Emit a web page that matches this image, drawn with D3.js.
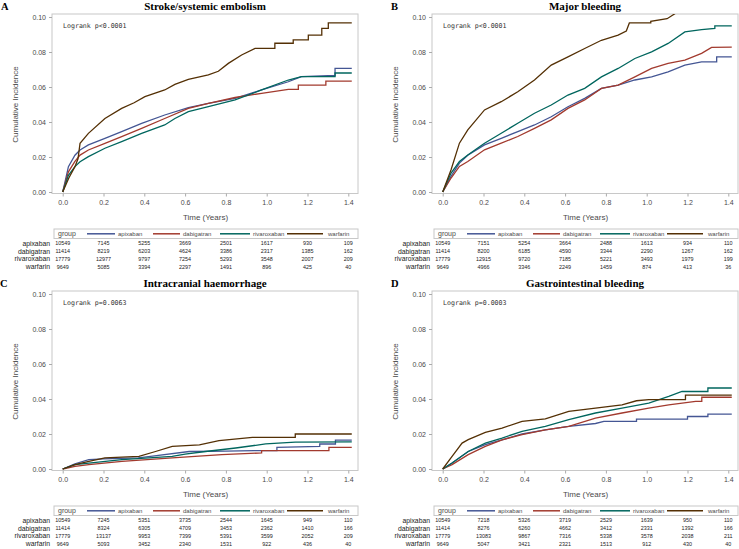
<!DOCTYPE html>
<html><head><meta charset="utf-8">
<script src="https://cdn.jsdelivr.net/npm/d3@7"></script>
<style>body{margin:0;background:#fff}svg{display:block}</style>
</head><body><svg id="c" width="739" height="549"></svg>
<script>
const groups = ["apixaban","dabigatran","rivaroxaban","warfarin"];
const colors = ["#445694","#A23A2E","#01665E","#543005"];
const xTicks = [0,0.2,0.4,0.6,0.8,1.0,1.2,1.4];
const yTicks = [0,0.02,0.04,0.06,0.08,0.10];
const panelLetters = ["A","B","C","D"];
const panelTitles = ["Stroke/systemic embolism","Major bleeding","Intracranial haemorrhage","Gastrointestinal bleeding"];
const logrankLabels = ["Logrank p<0.0001","Logrank p<0.0001","Logrank p=0.0063","Logrank p=0.0003"];

// Panel A: stroke / systemic embolism  [time (years), cumulative incidence]
const strokeApixaban = [[0,0],[0.01,0.005],[0.028,0.0145],[0.06,0.021],[0.085,0.024],[0.126,0.0269],[0.207,0.0307],[0.289,0.0345],[0.387,0.0392],[0.5,0.044],[0.616,0.0482],[0.714,0.0507],[0.845,0.0535],[0.975,0.0583],[1.106,0.063],[1.17,0.0659],[1.3,0.0665],[1.335,0.0665],[1.335,0.0707],[1.417,0.0707]];
const strokeDabigatran = [[0,0],[0.028,0.0115],[0.06,0.0175],[0.085,0.0211],[0.126,0.024],[0.207,0.0278],[0.289,0.0316],[0.387,0.0364],[0.5,0.042],[0.616,0.0478],[0.714,0.0507],[0.845,0.054],[0.975,0.0564],[1.106,0.0587],[1.155,0.0587],[1.155,0.0611],[1.29,0.0611],[1.29,0.0634],[1.417,0.0634]];
const strokeRivaroxaban = [[0,0],[0.028,0.0095],[0.06,0.0145],[0.085,0.0173],[0.126,0.0202],[0.207,0.025],[0.289,0.0288],[0.387,0.0335],[0.5,0.0383],[0.55,0.042],[0.616,0.0459],[0.714,0.0488],[0.845,0.0526],[0.975,0.0583],[1.106,0.064],[1.17,0.0659],[1.335,0.0659],[1.335,0.068],[1.417,0.068]];
const strokeWarfarin = [[0,0],[0.03,0.008],[0.06,0.0145],[0.075,0.019],[0.085,0.0278],[0.126,0.0335],[0.207,0.042],[0.289,0.0478],[0.35,0.051],[0.403,0.0545],[0.5,0.0583],[0.55,0.0615],[0.616,0.0644],[0.714,0.0669],[0.763,0.069],[0.812,0.0735],[0.877,0.0783],[0.943,0.0821],[1.04,0.0821],[1.04,0.085],[1.13,0.085],[1.13,0.0869],[1.204,0.0869],[1.204,0.0897],[1.27,0.0897],[1.27,0.0935],[1.302,0.0935],[1.302,0.0967],[1.417,0.0967]];

// Panel B: major bleeding
const majorApixaban = [[0,0],[0.041,0.009],[0.082,0.0165],[0.123,0.021],[0.205,0.0269],[0.287,0.0307],[0.368,0.0345],[0.45,0.0383],[0.532,0.043],[0.614,0.0487],[0.696,0.0535],[0.778,0.0592],[0.86,0.0611],[0.942,0.064],[1.024,0.0658],[1.105,0.0687],[1.187,0.0725],[1.269,0.0744],[1.343,0.0744],[1.343,0.0772],[1.417,0.0772]];
const majorDabigatran = [[0,0],[0.041,0.008],[0.082,0.0146],[0.123,0.0174],[0.205,0.0241],[0.287,0.0279],[0.368,0.0317],[0.45,0.0364],[0.532,0.0412],[0.614,0.0478],[0.696,0.0526],[0.778,0.0592],[0.86,0.0611],[0.942,0.0658],[1.024,0.0706],[1.105,0.0735],[1.187,0.0753],[1.269,0.0792],[1.318,0.0826],[1.417,0.0828]];
const majorRivaroxaban = [[0,0],[0.041,0.0108],[0.082,0.0174],[0.123,0.0212],[0.205,0.0279],[0.287,0.0336],[0.368,0.0393],[0.45,0.045],[0.532,0.0497],[0.614,0.0554],[0.696,0.0592],[0.778,0.0658],[0.86,0.0706],[0.942,0.0763],[1.024,0.0801],[1.105,0.0849],[1.187,0.0915],[1.269,0.0928],[1.334,0.0935],[1.334,0.0949],[1.417,0.0949]];
const majorWarfarin = [[0,0],[0.041,0.0127],[0.082,0.0279],[0.123,0.0355],[0.205,0.0469],[0.287,0.0516],[0.368,0.0573],[0.45,0.064],[0.532,0.0725],[0.614,0.0772],[0.696,0.082],[0.778,0.0867],[0.86,0.0896],[0.9,0.092],[0.915,0.0966],[1.02,0.0966],[1.02,0.0975],[1.1,0.099],[1.14,0.102],[1.2,0.106]];

// Panel C: intracranial haemorrhage
const ichApixaban = [[0,0],[0.06,0.003],[0.128,0.0053],[0.2,0.0058],[0.37,0.0063],[0.45,0.0075],[0.62,0.01],[0.8,0.0102],[0.94,0.0105],[1.05,0.0105],[1.05,0.0124],[1.26,0.0129],[1.26,0.0143],[1.337,0.0143],[1.337,0.0165],[1.417,0.0165]];
const ichDabigatran = [[0,0],[0.06,0.0015],[0.128,0.0025],[0.29,0.0043],[0.537,0.0063],[0.78,0.0082],[0.975,0.0092],[0.975,0.0105],[1.305,0.0105],[1.305,0.0124],[1.417,0.0124]];
const ichRivaroxaban = [[0,0],[0.06,0.0025],[0.128,0.0034],[0.29,0.0053],[0.537,0.0072],[0.6,0.0085],[0.7,0.01],[0.848,0.012],[0.995,0.0143],[1.14,0.0154],[1.417,0.0155]];
const ichWarfarin = [[0,0],[0.06,0.0025],[0.128,0.0043],[0.207,0.0063],[0.374,0.0072],[0.455,0.01],[0.537,0.0129],[0.67,0.0138],[0.766,0.0162],[0.93,0.0181],[1.14,0.0181],[1.14,0.02],[1.417,0.02]];

// Panel D: gastrointestinal bleeding
const giApixaban = [[0,0],[0.046,0.0034],[0.125,0.01],[0.209,0.0139],[0.291,0.0167],[0.389,0.02],[0.503,0.0224],[0.618,0.0243],[0.749,0.026],[0.79,0.0272],[0.95,0.0272],[0.95,0.0285],[1.2,0.0285],[1.2,0.03],[1.3,0.03],[1.3,0.0314],[1.417,0.0314]];
const giDabigatran = [[0,0],[0.046,0.0025],[0.125,0.0082],[0.209,0.0129],[0.291,0.0167],[0.389,0.0196],[0.503,0.0224],[0.618,0.0243],[0.749,0.0291],[0.879,0.032],[1.01,0.0348],[1.108,0.0367],[1.24,0.0386],[1.27,0.0386],[1.27,0.041],[1.417,0.041]];
const giRivaroxaban = [[0,0],[0.046,0.0034],[0.125,0.01],[0.209,0.0148],[0.291,0.0177],[0.389,0.0215],[0.503,0.0243],[0.618,0.0282],[0.749,0.032],[0.879,0.0348],[1.01,0.0377],[1.108,0.0415],[1.173,0.0443],[1.3,0.0443],[1.3,0.0463],[1.417,0.0463]];
const giWarfarin = [[0,0],[0.046,0.0072],[0.095,0.0148],[0.125,0.0168],[0.209,0.0209],[0.291,0.0234],[0.389,0.0272],[0.503,0.0286],[0.618,0.0329],[0.749,0.0348],[0.879,0.0367],[0.95,0.039],[1.01,0.0396],[1.19,0.0396],[1.19,0.0422],[1.417,0.0422]];

// Numbers at risk (rows: apixaban, dabigatran, rivaroxaban, warfarin; columns: xTicks)
const riskStroke = [[10549,7145,5255,3669,2501,1617,930,109],[11414,8219,6203,4624,3386,2317,1385,162],[17779,12977,9797,7254,5293,3548,2007,209],[9649,5085,3394,2297,1491,896,425,40]];
const riskMajor = [[10549,7151,5254,3664,2488,1613,934,110],[11414,8200,6185,4590,3344,2290,1267,162],[17779,12915,9720,7185,5221,3493,1979,199],[9649,4966,3346,2249,1459,874,413,36]];
const riskIch = [[10549,7245,5351,3735,2544,1645,949,110],[11414,8324,6305,4709,3453,2362,1410,166],[17779,13137,9953,7399,5391,3599,2052,209],[9649,5093,3452,2340,1531,922,436,40]];
const riskGi = [[10549,7218,5326,3719,2529,1639,950,110],[11414,8276,6260,4662,3412,2331,1392,166],[17779,13083,9867,7316,5338,3578,2038,211],[9649,5047,3421,2321,1513,912,430,40]];

const panelCurves = [
  [strokeApixaban,strokeDabigatran,strokeRivaroxaban,strokeWarfarin],
  [majorApixaban,majorDabigatran,majorRivaroxaban,majorWarfarin],
  [ichApixaban,ichDabigatran,ichRivaroxaban,ichWarfarin],
  [giApixaban,giDabigatran,giRivaroxaban,giWarfarin]
];
const panelRisk = [riskStroke,riskMajor,riskIch,riskGi];

const svg = d3.select("#c");
const SANS = "'Liberation Sans', Arial, sans-serif";
const offsets = [[0,0],[380,0],[0,277],[380,277]];
const letterX = [1,391,0,391];
const frameL = 52, frameR = 358, frameT = 14, frameB = 193.5;
const gridCol = "#c8c8c8", textCol = "#4a4a4a";
const rowY = [243.2,251,258.8,266.6];
const legendLines = [[87,115],[153,180],[220,250],[287,323]];
const legendTextX = [118,183,253,328];

panelTitles.forEach((title, i) => {
  const [ox, oy] = offsets[i];
  const g = svg.append("g").attr("transform", `translate(${ox},${oy})`);
  const x = d3.scaleLinear().domain([0,1.4]).range([62.7,348.3]);
  const y = d3.scaleLinear().domain([0,0.1]).range([192,17]);

  svg.append("text").attr("x", letterX[i]).attr("y", oy + 10)
    .attr("font-family","'Liberation Serif','Times New Roman',serif").attr("font-weight","bold")
    .attr("font-size",10.5).attr("fill","#000").text(panelLetters[i]);
  g.append("text").attr("x",(frameL+frameR)/2).attr("y",10)
    .attr("text-anchor","middle").attr("font-family","'Liberation Serif','Times New Roman',serif")
    .attr("font-weight","bold").attr("font-size",11).attr("fill","#000").text(title);

  g.append("rect").attr("x",frameL).attr("y",frameT).attr("width",frameR-frameL).attr("height",frameB-frameT)
    .attr("fill","none").attr("stroke",gridCol).attr("stroke-width",1);

  // axes
  const ya = g.append("g").attr("transform",`translate(${frameL},0)`)
    .call(d3.axisLeft(y).tickValues(yTicks).tickFormat(d3.format(".2f")).tickSize(3).tickPadding(3));
  const xa = g.append("g").attr("transform",`translate(0,${frameB})`)
    .call(d3.axisBottom(x).tickValues(xTicks).tickFormat(d3.format(".1f")).tickSize(3).tickPadding(4));
  [ya,xa].forEach(a => {
    a.select(".domain").remove();
    a.selectAll(".tick line").attr("stroke","#aaa");
    a.selectAll(".tick text").attr("font-family",SANS).attr("font-size",7).attr("fill",textCol);
  });

  g.append("text").attr("transform",`translate(15,${(17+192)/2}) rotate(-90)`)
    .attr("text-anchor","middle").attr("dominant-baseline","central")
    .attr("font-family",SANS).attr("font-size",8).attr("fill",textCol).text("Cumulative Incidence");
  g.append("text").attr("x",(x(0)+x(1.4))/2).attr("y",219.5).attr("text-anchor","middle")
    .attr("font-family",SANS).attr("font-size",8).attr("fill",textCol).text("Time (Years)");

  g.append("text").attr("x",63).attr("y",28)
    .attr("font-family","'DejaVu Sans Mono','Liberation Mono',monospace").attr("font-size",6.6)
    .attr("fill","#333").text(logrankLabels[i]);

  // curves
  const clipId = "clip"+i;
  g.append("clipPath").attr("id",clipId).append("rect")
    .attr("x",frameL).attr("y",frameT).attr("width",frameR-frameL).attr("height",frameB-frameT);
  const line = d3.line().x(d => x(d[0])).y(d => y(d[1])).curve(d3.curveLinear);
  const cg = g.append("g").attr("clip-path",`url(#${clipId})`);
  panelCurves[i].forEach((data, k) => {
    cg.append("path").datum(data).attr("d",line).attr("fill","none")
      .attr("stroke",colors[k]).attr("stroke-width",1.3).attr("stroke-linejoin","miter");
  });

  // legend
  g.append("rect").attr("x",frameL+2).attr("y",229).attr("width",frameR-frameL-2).attr("height",9.5)
    .attr("fill","none").attr("stroke",gridCol);
  g.append("text").attr("x",58).attr("y",233.9).attr("dominant-baseline","central")
    .attr("font-family",SANS).attr("font-size",7).attr("fill",textCol).text("group");
  groups.forEach((grp,k) => {
    g.append("line").attr("x1",legendLines[k][0]).attr("x2",legendLines[k][1])
      .attr("y1",233.8).attr("y2",233.8).attr("stroke",colors[k]).attr("stroke-width",1.5);
    g.append("text").attr("x",legendTextX[k]).attr("y",233.9).attr("dominant-baseline","central")
      .attr("font-family",SANS).attr("font-size",6).attr("fill",textCol).text(grp);
  });

  // risk table
  const risk = panelRisk[i];
  groups.forEach((grp,k) => {
    g.append("text").attr("x",50).attr("y",rowY[k]).attr("text-anchor","end").attr("dominant-baseline","central")
      .attr("font-family",SANS).attr("font-size",6.8).attr("fill","#222").text(grp);
    risk[k].forEach((n,j) => {
      g.append("text").attr("x",x(xTicks[j])).attr("y",rowY[k]).attr("text-anchor","middle")
        .attr("dominant-baseline","central").attr("font-family",SANS).attr("font-size",5.4)
        .attr("fill","#222").text(n);
    });
  });
});
</script></body></html>
